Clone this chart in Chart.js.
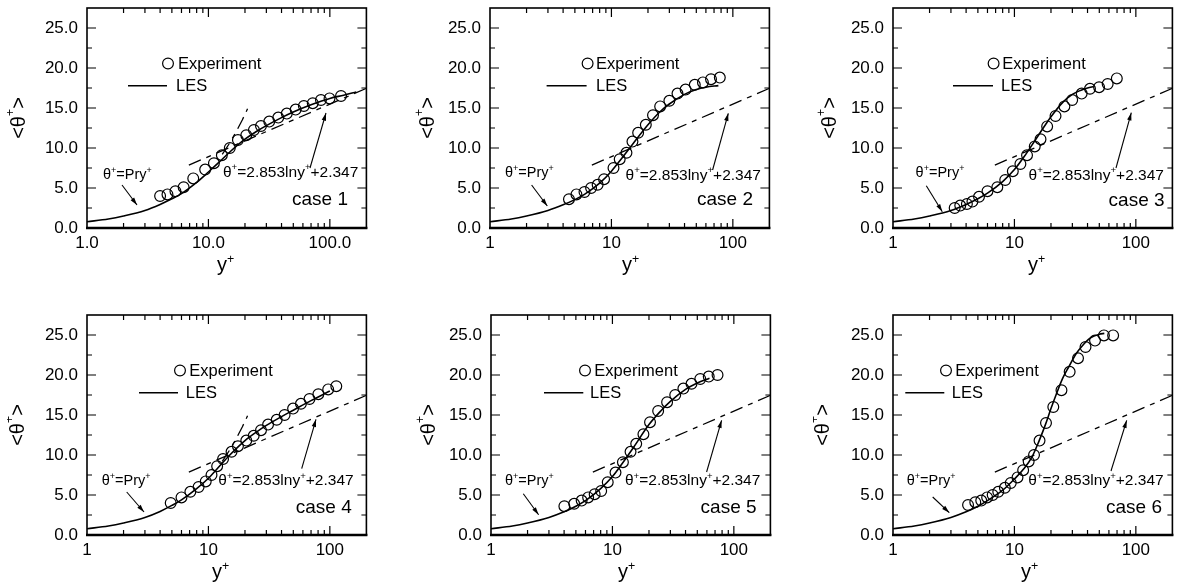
<!DOCTYPE html>
<html><head><meta charset="utf-8">
<script src="https://cdn.jsdelivr.net/npm/chart.js@4.4.1/dist/chart.umd.min.js"></script>
<style>
html,body{margin:0;padding:0;background:#fff;width:1179px;height:584px;overflow:hidden;position:relative}
canvas{position:absolute}
</style></head><body>
<canvas id="c1" width="366" height="276"></canvas>
<canvas id="c2" width="366" height="276"></canvas>
<canvas id="c3" width="366" height="276"></canvas>
<canvas id="c4" width="366" height="276"></canvas>
<canvas id="c5" width="366" height="276"></canvas>
<canvas id="c6" width="366" height="276"></canvas>
<script>
// ---------- data ----------
const yTickValues = [0, 5, 10, 15, 20, 25];
const xTickValues = [1, 10, 100];
const xLabelsDecimal = ['1.0', '10.0', '100.0'];
const xLabelsInteger = ['1', '10', '100'];

// log law  θ+ = 2.853 ln y+ + 2.347 (straight on log axis: end points)
const logLawX = [6.9, 200];
const logLawY = [7.86, 17.46];
// visible dashed continuation of θ+ = Pr y+
const pryX = [13, 15, 17, 19, 21];
const pryY = [9.2, 10.65, 12.1, 13.5, 14.9];

const case1ExpX = [4.0, 4.6, 5.35, 6.25, 7.5, 9.4, 11.1, 12.9, 15.0, 17.5, 20.5, 23.7, 27.1, 31.7, 37.6, 44.2, 52.3, 61.1, 72.3, 84.5, 99.4, 123.6];
const case1ExpY = [4.0, 4.2, 4.6, 5.1, 6.2, 7.3, 8.1, 9.1, 10.0, 11.0, 11.6, 12.25, 12.75, 13.3, 13.8, 14.3, 14.8, 15.25, 15.6, 16.0, 16.2, 16.5];
const case1LesX = [1, 1.5, 2, 3, 4, 5, 6, 8, 10, 12, 15, 20, 25, 30, 40, 50, 70, 100, 130, 165];
const case1LesY = [0.78, 1.12, 1.5, 2.2, 2.95, 3.65, 4.3, 5.7, 7.0, 8.1, 9.5, 11.1, 12.1, 12.8, 13.8, 14.5, 15.4, 16.2, 16.6, 17.0];

const case2ExpX = [4.47, 5.15, 6.0, 6.8, 7.7, 8.7, 10.4, 11.7, 13.3, 14.9, 16.6, 19.2, 22.0, 25.2, 30.0, 35.0, 40.8, 48.6, 56.7, 66.1, 78.1];
const case2ExpY = [3.6, 4.2, 4.5, 5.0, 5.4, 6.1, 7.5, 8.6, 9.4, 10.8, 11.9, 12.9, 14.1, 15.2, 15.9, 16.8, 17.3, 17.9, 18.2, 18.6, 18.8];
const case2LesX = [1, 1.5, 2, 3, 4, 5, 6, 8, 10, 12, 15, 20, 25, 30, 40, 50, 60, 76];
const case2LesY = [0.78, 1.12, 1.5, 2.2, 2.9, 3.55, 4.2, 5.6, 7.1, 8.6, 10.5, 12.9, 14.5, 15.5, 16.7, 17.3, 17.6, 17.8];

const case3ExpX = [3.22, 3.58, 4.06, 4.51, 5.11, 6.0, 7.23, 8.4, 9.7, 11.2, 12.7, 14.7, 16.4, 18.6, 21.8, 25.8, 29.9, 35.8, 41.9, 49.8, 58.6, 69.7];
const case3ExpY = [2.5, 2.8, 3.0, 3.3, 3.9, 4.6, 5.1, 6.0, 7.1, 8.0, 9.1, 10.2, 11.1, 12.7, 14.0, 15.2, 16.0, 16.8, 17.4, 17.6, 18.0, 18.7];
const case3LesX = [1, 1.5, 2, 3, 4, 5, 6, 8, 10, 12, 15, 18, 20, 25, 30, 35, 40, 45];
const case3LesY = [0.78, 1.12, 1.5, 2.2, 2.95, 3.65, 4.35, 5.8, 7.3, 8.9, 11.1, 12.9, 13.9, 15.7, 16.7, 17.2, 17.5, 17.7];

const case4ExpX = [4.89, 6.0, 7.1, 8.3, 9.5, 10.6, 11.8, 13.2, 15.5, 17.5, 20.5, 23.6, 27.1, 31.0, 36.5, 42.4, 49.8, 57.8, 68.0, 80.4, 96.9, 113];
const case4ExpY = [4.0, 4.7, 5.4, 6.0, 6.7, 7.5, 8.6, 9.5, 10.4, 11.1, 11.8, 12.4, 13.1, 13.8, 14.4, 15.0, 15.8, 16.4, 17.0, 17.6, 18.2, 18.6];
const case4LesX = [1, 1.5, 2, 3, 4, 5, 6, 8, 10, 12, 15, 20, 25, 30, 40, 50, 70, 100];
const case4LesY = [0.78, 1.12, 1.5, 2.2, 2.95, 3.7, 4.4, 5.8, 7.1, 8.4, 10.0, 11.8, 12.9, 13.7, 14.8, 15.6, 16.8, 18.0];

const case5ExpX = [4.02, 4.84, 5.58, 6.31, 7.14, 8.08, 9.15, 10.6, 12.2, 14.1, 15.7, 18.0, 20.4, 23.8, 28.2, 32.9, 38.4, 44.8, 52.9, 62.1, 73.4];
const case5ExpY = [3.6, 3.9, 4.3, 4.7, 5.1, 5.5, 6.6, 7.8, 9.1, 10.4, 11.4, 12.6, 14.1, 15.5, 16.6, 17.5, 18.3, 18.9, 19.5, 19.8, 20.0];
const case5LesX = [1, 1.5, 2, 3, 4, 5, 6, 8, 10, 12, 15, 20, 25, 30, 40, 50, 63];
const case5LesY = [0.78, 1.12, 1.5, 2.2, 2.9, 3.6, 4.3, 5.8, 7.3, 8.9, 11.0, 13.8, 15.5, 16.7, 18.2, 19.0, 19.6];

const case6ExpX = [4.15, 4.76, 5.33, 5.96, 6.62, 7.36, 8.34, 9.33, 10.6, 11.8, 13.1, 14.5, 16.1, 18.2, 20.9, 24.4, 28.5, 33.4, 38.5, 46.1, 54.6, 65.0];
const case6ExpY = [3.75, 4.1, 4.3, 4.7, 5.0, 5.4, 5.9, 6.5, 7.2, 8.1, 9.2, 10.0, 11.8, 14.0, 16.0, 18.1, 20.4, 22.1, 23.5, 24.3, 24.95, 24.95];
const case6LesX = [1, 1.5, 2, 3, 4, 5, 6, 8, 10, 12, 14, 16, 18, 20, 22, 25, 28, 32, 36, 42, 50, 55];
const case6LesY = [0.78, 1.12, 1.5, 2.2, 2.9, 3.6, 4.3, 5.6, 7.0, 8.3, 9.8, 11.8, 13.8, 15.8, 17.5, 19.6, 21.0, 22.6, 23.6, 24.6, 25.1, 25.2];

const caseNames = ['case 1', 'case 2', 'case 3', 'case 4', 'case 5', 'case 6'];

// ---------- layout (pixels, not data) ----------
const AXW = 80, AXH = 48, PADT = 8, PADR = 4;
const FONT = '"Liberation Sans", Arial, Helvetica, sans-serif';
const panels = [
  {L: 87,  T: 8,   exp: [case1ExpX, case1ExpY], les: [case1LesX, case1LesY], pry: true,  xl: xLabelsDecimal,
   leg: {cx: 81, ex: 91, l1: 41, l2: 80, lx: 89}, pt: [16,171], pa: [35,177,50,197], lt: [136,169], la: [223,160,239,105], cr: 261, cb: 197, yt: -68, xt: 135},
  {L: 490, T: 8,   exp: [case2ExpX, case2ExpY], les: [case2LesX, case2LesY], pry: false, xl: xLabelsInteger,
   leg: {cx: 97.6, ex: 106, l1: 56.6, l2: 96.6, lx: 106}, pt: [15,169], pa: [41.6,177,57.3,198], lt: [135.6,172], la: [222.6,162,238.3,105.3], cr: 263, cb: 197, yt: -62, xt: 137},
  {L: 893, T: 8,   exp: [case3ExpX, case3ExpY], les: [case3LesX, case3LesY], pry: false, xl: xLabelsInteger,
   leg: {cx: 100.6, ex: 109.3, l1: 60, l2: 100, lx: 108}, pt: [22.6,169], pa: [33.3,177.7,49.3,203.7], lt: [135.6,172], la: [223,160,238.3,104.7], cr: 271.6, cb: 198, yt: -63, xt: 140},
  {L: 87,  T: 315, exp: [case4ExpX, case4ExpY], les: [case4LesX, case4LesY], pry: true,  xl: xLabelsInteger,
   leg: {cx: 93, ex: 102.3, l1: 52, l2: 91, lx: 98.7}, pt: [14.7,169.7], pa: [39.7,177,57,197], lt: [131.3,170.3], la: [214.7,153.7,229,104.3], cr: 264.7, cb: 197.7, yt: -69, xt: 130},
  {L: 491, T: 315, exp: [case5ExpX, case5ExpY], les: [case5LesX, case5LesY], pry: false, xl: xLabelsInteger,
   leg: {cx: 94, ex: 103.3, l1: 53, l2: 92.3, lx: 99}, pt: [14,169.7], pa: [32.3,178.7,47.6,199.7], lt: [134,170.3], la: [215.6,157,230.6,105.3], cr: 265.6, cb: 197.7, yt: -62, xt: 132},
  {L: 893, T: 315, exp: [case6ExpX, case6ExpY], les: [case6LesX, case6LesY], pry: false, xl: xLabelsInteger,
   leg: {cx: 53, ex: 62.3, l1: 12.3, l2: 51.3, lx: 58.7}, pt: [13.7,169.7], pa: [39.7,182,56.3,197.7], lt: [135.3,170.3], la: [218,156,233.7,105.3], cr: 269, cb: 197.7, yt: -70, xt: 133}
];

function pts(xs, ys) { return xs.map((x, i) => ({x: x, y: ys[i]})); }

function rich(ctx, parts, x, y, size, align) {
  let w = 0;
  const ws = parts.map(p => {
    ctx.font = (p[1] ? size * 0.62 : size) + 'px ' + FONT;
    const m = ctx.measureText(p[0]).width; w += m; return m;
  });
  let cx = align === 'right' ? x - w : (align === 'center' ? x - w / 2 : x);
  parts.forEach((p, i) => {
    ctx.font = (p[1] ? size * 0.62 : size) + 'px ' + FONT;
    ctx.fillText(p[0], cx, p[1] ? y - size * 0.42 : y);
    cx += ws[i];
  });
}

function arrow(ctx, x1, y1, x2, y2) {
  ctx.beginPath(); ctx.moveTo(x1, y1); ctx.lineTo(x2, y2); ctx.stroke();
  const a = Math.atan2(y2 - y1, x2 - x1), len = 8, sp = 0.28;
  ctx.beginPath();
  ctx.moveTo(x2, y2);
  ctx.lineTo(x2 - len * Math.cos(a - sp), y2 - len * Math.sin(a - sp));
  ctx.lineTo(x2 - len * Math.cos(a + sp), y2 - len * Math.sin(a + sp));
  ctx.closePath(); ctx.fill();
}

const decor = {
  id: 'decor',
  afterDraw(chart) {
    const p = chart.options.plugins.decor.panel;
    const ctx = chart.ctx, a = chart.chartArea, xs = chart.scales.x, ys = chart.scales.y;
    ctx.save();
    ctx.strokeStyle = '#000'; ctx.fillStyle = '#000';
    // ticks (inward, all four sides)
    ctx.lineWidth = 1.2;
    ctx.beginPath();
    for (let v = 2.5; v < 27.5; v += 2.5) {
      const py = ys.getPixelForValue(v), len = (v % 5 === 0) ? 9 : 5;
      ctx.moveTo(a.left, py); ctx.lineTo(a.left + len, py);
      ctx.moveTo(a.right, py); ctx.lineTo(a.right - len, py);
    }
    [1, 10, 100].forEach(d => {
      for (let k = 1; k <= 9; k++) {
        const v = k * d; if (v <= 1 || v >= 200) continue;
        const px = xs.getPixelForValue(v), len = k === 1 ? 9 : 5;
        ctx.moveTo(px, a.bottom); ctx.lineTo(px, a.bottom - len);
        ctx.moveTo(px, a.top); ctx.lineTo(px, a.top + len);
      }
    });
    ctx.stroke();
    // frame
    ctx.lineWidth = 1.6;
    ctx.strokeRect(a.left, a.top, a.right - a.left, a.bottom - a.top);
    ctx.lineWidth = 2.4;
    ctx.beginPath(); ctx.moveTo(a.left - 1, a.bottom); ctx.lineTo(a.right + 1, a.bottom); ctx.stroke();

    const X = a.left, Y = a.top;
    ctx.textBaseline = 'alphabetic';
    // legend
    ctx.lineWidth = 1.2;
    ctx.beginPath(); ctx.arc(X + p.leg.cx, Y + 55.5, 5.4, 0, Math.PI * 2); ctx.stroke();
    rich(ctx, [['Experiment']], X + p.leg.ex, Y + 61, 16.5, 'left');
    ctx.lineWidth = 1.5;
    ctx.beginPath(); ctx.moveTo(X + p.leg.l1, Y + 77.7); ctx.lineTo(X + p.leg.l2, Y + 77.7); ctx.stroke();
    rich(ctx, [['LES']], X + p.leg.lx, Y + 83, 16.5, 'left');
    // annotations
    rich(ctx, [['θ'], ['+', 1], ['=Pry'], ['+', 1]], X + p.pt[0], Y + p.pt[1], 14.5, 'left');
    rich(ctx, [['θ'], ['+', 1], ['=2.853lny'], ['+', 1], ['+2.347']], X + p.lt[0], Y + p.lt[1], 15.5, 'left');
    ctx.lineWidth = 1.1;
    arrow(ctx, X + p.pa[0], Y + p.pa[1], X + p.pa[2], Y + p.pa[3]);
    arrow(ctx, X + p.la[0], Y + p.la[1], X + p.la[2], Y + p.la[3]);
    rich(ctx, [[p.name]], X + p.cr, Y + p.cb, 19, 'right');
    // axis titles
    rich(ctx, [['y'], ['+', 1]], X + p.xt - 5, a.bottom + 43, 20, 'left');
    ctx.save();
    ctx.translate(X + p.yt, (a.top + a.bottom) / 2);
    ctx.rotate(-Math.PI / 2);
    ctx.textBaseline = 'middle';
    rich(ctx, [['<'], ['θ'], ['+', 1], ['>']], 0, 0, 20, 'center');
    ctx.restore();
    ctx.restore();
  }
};

panels.forEach((p, i) => {
  p.name = caseNames[i];
  const cv = document.getElementById('c' + (i + 1));
  cv.style.left = (p.L - AXW) + 'px';
  cv.style.top = (p.T - PADT) + 'px';
  const dash = [13, 6, 5, 6];
  const datasets = [
    {data: pts(logLawX, logLawY), borderColor: '#000', borderWidth: 1.3, borderDash: dash, pointRadius: 0, fill: false, order: 4},
  ];
  if (p.pry) datasets.push({data: pts(pryX, pryY), borderColor: '#000', borderWidth: 1.3, borderDash: dash, pointRadius: 0, fill: false, tension: 0, order: 3});
  datasets.push({data: pts(p.les[0], p.les[1]), borderColor: '#000', borderWidth: 1.6, pointRadius: 0, fill: false, cubicInterpolationMode: 'monotone', order: 2});
  datasets.push({data: pts(p.exp[0], p.exp[1]), showLine: false, borderColor: '#000', backgroundColor: 'rgba(0,0,0,0)', borderWidth: 1.2, pointRadius: 5.4, pointStyle: 'circle', order: 1});

  new Chart(cv, {
    type: 'line',
    data: {datasets: datasets},
    plugins: [decor],
    options: {
      responsive: false, animation: false, devicePixelRatio: 1,
      layout: {padding: {left: 0, top: PADT, right: PADR, bottom: 0}},
      plugins: {legend: {display: false}, tooltip: {enabled: false}, decor: {panel: p}},
      scales: {
        x: {
          type: 'logarithmic', min: 1, max: 200,
          grid: {display: false, drawTicks: false}, border: {display: false},
          afterBuildTicks: s => { s.ticks = xTickValues.map(v => ({value: v})); },
          afterFit: s => { s.height = AXH; s.paddingLeft = 0; s.paddingRight = 0; },
          ticks: {color: '#000', font: {family: FONT, size: 17}, padding: 5, maxRotation: 0, autoSkip: false,
                  callback: (v, idx) => p.xl[idx]}
        },
        y: {
          type: 'linear', min: 0, max: 27.5,
          grid: {display: false, drawTicks: false}, border: {display: false},
          afterBuildTicks: s => { s.ticks = yTickValues.map(v => ({value: v})); },
          afterFit: s => { s.width = AXW; s.paddingTop = 0; s.paddingBottom = 0; },
          ticks: {color: '#000', font: {family: FONT, size: 17}, padding: 9, autoSkip: false,
                  callback: v => Number(v).toFixed(1)}
        }
      }
    }
  });
});
</script>
</body></html>
